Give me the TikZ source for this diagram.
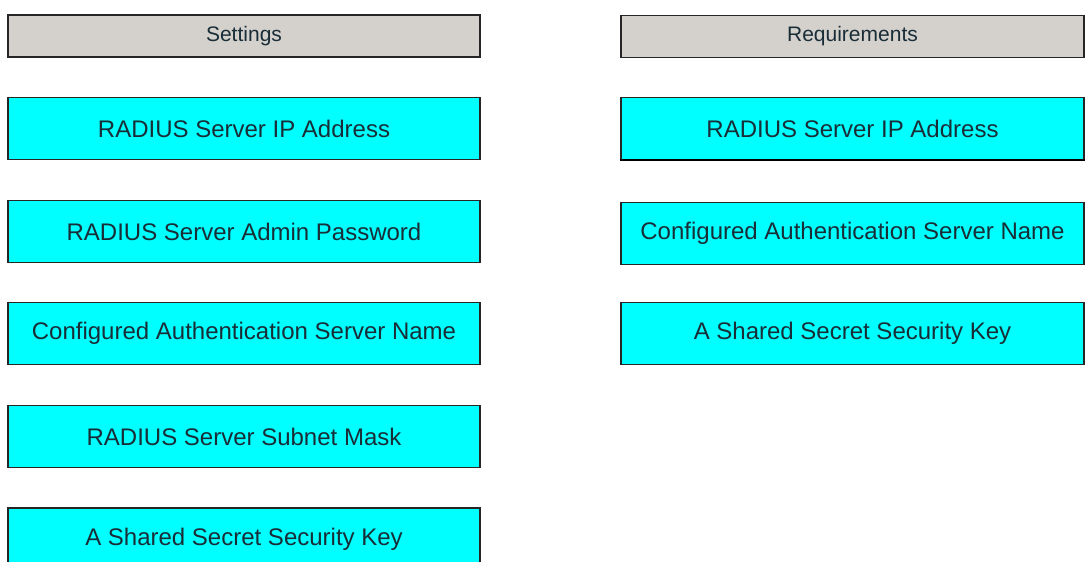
\documentclass[tikz,border=0pt]{standalone}
\usepackage{fontspec}
\setmainfont{Liberation Sans}
\definecolor{boxcyan}{RGB}{0,255,255}
\definecolor{headgrey}{RGB}{212,209,205}
\definecolor{textdark}{RGB}{25,45,55}
\tikzset{
  headbox/.style={draw=black!85,line width=1.3pt,fill=headgrey,minimum height=42pt,inner sep=0pt,text=textdark,font=\fontsize{21}{25}\selectfont},
  itembox/.style={draw=black!85,line width=1.3pt,fill=boxcyan,minimum height=62pt,inner sep=0pt,text=textdark,font=\fontsize{24}{28}\selectfont},
  leftcol/.style={minimum width=472pt},
  rightcol/.style={minimum width=463pt}
}
\begin{document}
\begin{tikzpicture}[x=1pt,y=-1pt]
  \useasboundingbox (0,0) rectangle (1085,562);
  \clip (0,0) rectangle (1085,562);
  % settings column
  \node (sethead) at (244,36) [headbox,leftcol] {Settings};
  \node (setip) at (244,128.5) [itembox,leftcol] {RADIUS Server IP Address};
  \node (setpw) at (244,231.5) [itembox,leftcol] {RADIUS Server Admin Password};
  \node (setname) at (244,333.5) [itembox,leftcol] {Configured Authentication Server Name};
  \node (setmask) at (244,436.5) [itembox,leftcol] {RADIUS Server Subnet Mask};
  \node (setkey) at (244,539) [itembox,leftcol] {A Shared Secret Security Key};
  % requirements column
  \node (reqhead) at (852.5,36.5) [headbox,rightcol] {Requirements};
  \node (reqip) at (852.5,128.5) [itembox,rightcol] {RADIUS Server IP Address};
  \draw[line width=2.5pt,black] (reqip.south west) -- (reqip.south east);
  \node (reqname) at (852.5,233.5) [itembox,rightcol] {Configured Authentication Server Name};
  \node (reqkey) at (852.5,333.5) [itembox,rightcol] {A Shared Secret Security Key};
\end{tikzpicture}
\end{document}
